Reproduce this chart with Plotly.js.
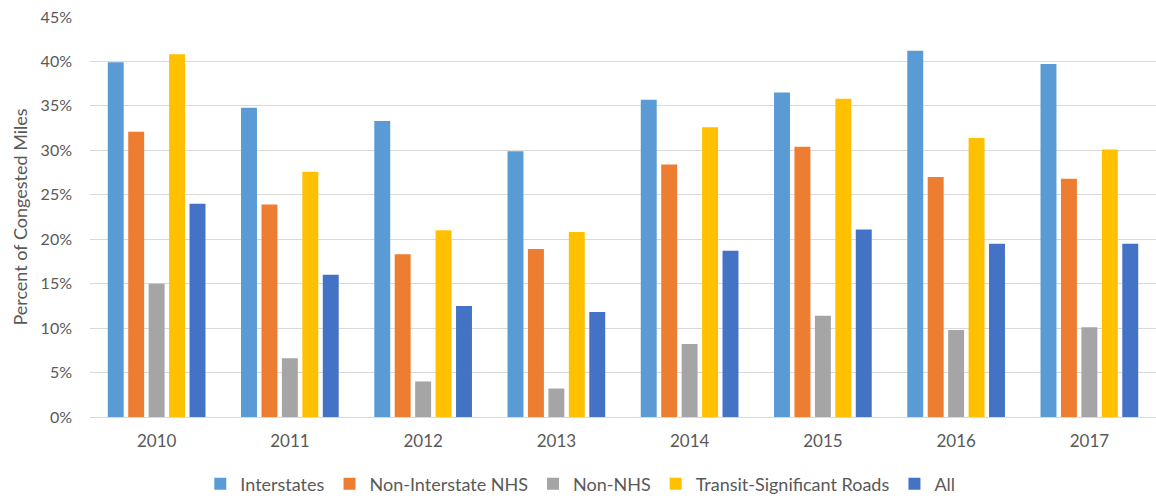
<!DOCTYPE html>
<html>
<head>
<meta charset="utf-8">
<script src="https://cdn.plot.ly/plotly-3.0.1.min.js"></script>
<style>
  html, body { margin: 0; padding: 0; background: #ffffff; }
  #chart { width: 1156px; height: 498px; }
</style>
</head>
<body>
<div id="chart"></div>
<script>
// Share of congested road miles by road class, 2010-2017 (percent)
const years = ['2010', '2011', '2012', '2013', '2014', '2015', '2016', '2017'];

const interstates        = [39.9, 34.8, 33.3, 29.9, 35.7, 36.5, 41.2, 39.7];
const nonInterstateNHS   = [32.1, 23.9, 18.3, 18.9, 28.4, 30.4, 27.0, 26.8];
const nonNHS             = [15.0, 6.6, 4.0, 3.2, 8.2, 11.4, 9.8, 10.1];
const transitSignificant = [40.8, 27.6, 21.0, 20.8, 32.6, 35.8, 31.4, 30.1];
const allRoads           = [24.0, 16.0, 12.5, 11.8, 18.7, 21.1, 19.5, 19.5];

const seriesNames = ['Interstates', 'Non-Interstate NHS', 'Non-NHS', 'Transit-Significant Roads', 'All'];
const seriesValues = [interstates, nonInterstateNHS, nonNHS, transitSignificant, allRoads];
const seriesColors = ['#5B9BD5', '#ED7D31', '#A5A5A5', '#FFC000', '#4472C4'];

const FONT = 'Lato, "Liberation Sans", sans-serif';
const TEXT = '#595959';

const traces = seriesNames.map((name, i) => ({
  type: 'bar',
  name: name,
  x: years,
  y: seriesValues[i],
  marker: { color: seriesColors[i], line: { width: 0 } },
  hovertemplate: '%{x}: %{y:.1f}%<extra>' + name + '</extra>'
}));

const layout = {
  width: 1156,
  height: 498,
  margin: { l: 90, r: 0, t: 17, b: 81 },
  paper_bgcolor: '#ffffff',
  plot_bgcolor: '#ffffff',
  font: { family: FONT, color: TEXT, size: 16 },
  barmode: 'group',
  bargap: 0.233,
  bargroupgap: 0.22,
  showlegend: true,
  legend: {
    orientation: 'h',
    xref: 'container',
    x: 0.502,
    xanchor: 'center',
    yref: 'container',
    y: 0.028,
    yanchor: 'middle',
    font: { family: FONT, color: TEXT, size: 18 },
    itemwidth: 30,
    traceorder: 'normal'
  },
  xaxis: {
    type: 'category',
    showgrid: false,
    showline: true,
    linecolor: '#d9d9d9',
    linewidth: 1,
    ticks: '',
    tickfont: { family: FONT, color: TEXT, size: 17 },
    ticklabelstandoff: 9,
    fixedrange: true
  },
  yaxis: {
    range: [0, 45],
    dtick: 5,
    tick0: 0,
    ticksuffix: '%',
    showgrid: true,
    gridcolor: '#d9d9d9',
    gridwidth: 1,
    zeroline: false,
    showline: false,
    ticks: '',
    ticklabelstandoff: 17,
    tickfont: { family: FONT, color: TEXT, size: 16 },
    title: {
      text: 'Percent of Congested Miles',
      font: { family: FONT, color: TEXT, size: 18 },
      standoff: 8
    },
    fixedrange: true
  }
};

Plotly.newPlot('chart', traces, layout, { displayModeBar: false, staticPlot: true });
</script>
</body>
</html>
